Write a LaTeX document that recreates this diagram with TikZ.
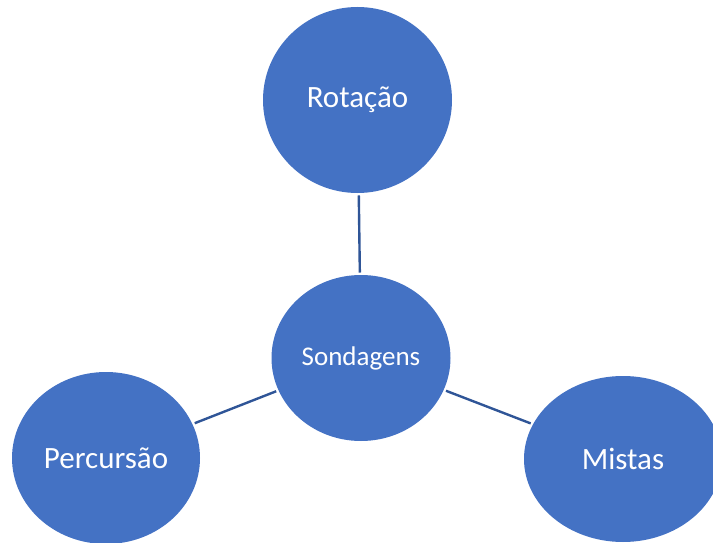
\documentclass[tikz,border=0pt]{standalone}
\usepackage{fontspec}
\setmainfont{Carlito}
\usetikzlibrary{shapes.geometric}
\definecolor{bubblefill}{HTML}{4472C4}
\definecolor{linkcol}{HTML}{2F5597}
\tikzset{
  bubble/.style={ellipse, fill=bubblefill, text=white, inner sep=0pt, outer sep=2.5pt,
    font=\fontsize{31}{37}\selectfont},
  link/.style={draw=linkcol, line width=2.4pt}
}
\begin{document}
\begin{tikzpicture}[x=1pt, y=-1pt]
  \useasboundingbox (0,0) rectangle (713,543);
  \clip (0,0) rectangle (713,543);
  % hub and its three branches
  \node[bubble, minimum width=179pt, minimum height=166pt,
        font=\fontsize{27}{32}\selectfont] (hub) at (361,358) {Sondagens};
  \node[bubble, minimum width=189pt, minimum height=186pt] (rot) at (357.5,100) {Rotação};
  \node[bubble, minimum width=188pt, minimum height=172pt] (perc) at (106,458) {Percursão};
  \node[bubble, minimum width=198pt, minimum height=166pt] (mix) at (623,459) {Mistas};
  % connectors
  \draw[link] (hub) -- (rot);
  \draw[link] (hub) -- (perc);
  \draw[link] (hub) -- (mix);
\end{tikzpicture}
\end{document}
